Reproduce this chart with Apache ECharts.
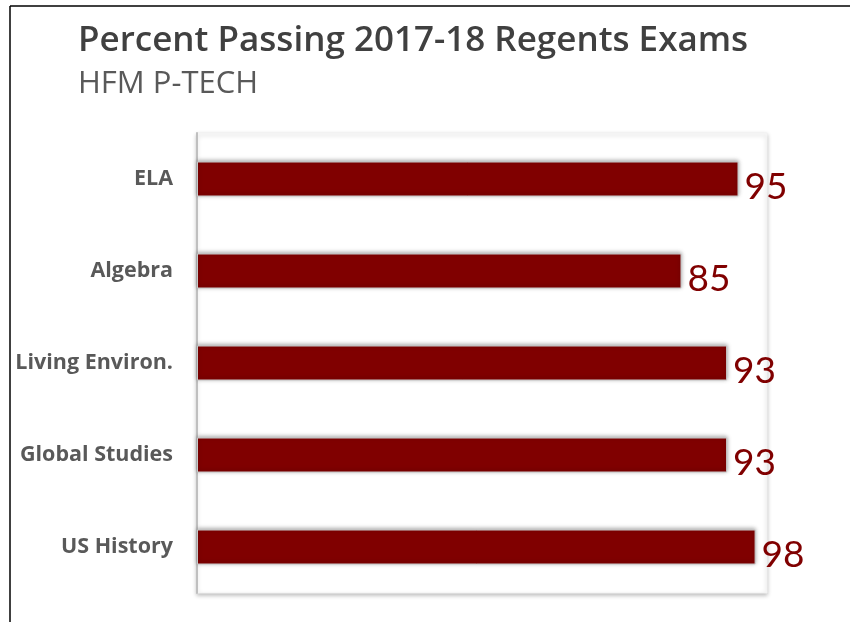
<!DOCTYPE html>
<html>
<head>
<meta charset="utf-8"/>
<title>Percent Passing 2017-18 Regents Exams</title>
<script src="https://cdn.jsdelivr.net/npm/echarts@6/dist/echarts.min.js"></script>
<style>
  html, body { margin: 0; padding: 0; background: #fff; }
  #main { width: 850px; height: 622px; }
</style>
</head>
<body>
<div id="main"></div>
<script type="text/javascript">
// data
var exams = ['ELA', 'Algebra', 'Living Environ.', 'Global Studies', 'US History'];
var passing = [95, 85, 93, 93, 98];

var myChart = echarts.init(document.getElementById('main'));

var option = {
    backgroundColor: '#fff',
    animation: false,
    title: {
        text: 'Percent Passing 2017-18 Regents Exams',
        subtext: 'HFM P-TECH',
        left: 73,
        top: 19,
        itemGap: 10,
        textStyle: { fontFamily: 'Open Sans', fontWeight: 600, fontSize: 35, color: '#404040' },
        subtextStyle: { fontFamily: 'Open Sans', fontSize: 31, color: '#595959' }
    },
    graphic: [
        // frame lines of the original slide
        { type: 'line', shape: { x1: 10, y1: 6, x2: 850, y2: 6 }, style: { stroke: '#000', lineWidth: 1.5 } },
        { type: 'line', shape: { x1: 10, y1: 6, x2: 10, y2: 622 }, style: { stroke: '#000', lineWidth: 1.5 } }
    ],
    grid: {
        left: 197, top: 133, width: 570, height: 460,
        show: true, borderColor: '#f2f2f2', borderWidth: 1,
        shadowColor: 'rgba(0,0,0,0.25)', shadowBlur: 4, shadowOffsetY: 2,
        backgroundColor: '#fff'
    },
    xAxis: {
        type: 'value', min: 0, max: 100,
        show: false
    },
    yAxis: {
        type: 'category',
        data: exams,
        inverse: true,
        axisLine: { lineStyle: { color: '#bfbfbf', width: 2 } },
        axisTick: { length: 5, lineStyle: { color: '#d9d9d9' } },
        axisLabel: {
            margin: 24,
            fontFamily: 'Open Sans', fontWeight: 'bold', fontSize: 21.5, color: '#595959'
        }
    },
    series: [{
        type: 'bar',
        data: passing,
        barWidth: 35,
        itemStyle: {
            color: '#800000',
            borderColor: '#c8c8c8',
            borderWidth: 1,
            shadowColor: 'rgba(0,0,0,0.35)',
            shadowBlur: 4,
            shadowOffsetY: -1
        },
        label: {
            show: true,
            position: 'right',
            distance: 6,
            offset: [0, 8],
            fontFamily: 'Lato',
            fontSize: 37, color: '#800000'
        }
    }]
};

myChart.setOption(option);
</script>
</body>
</html>
